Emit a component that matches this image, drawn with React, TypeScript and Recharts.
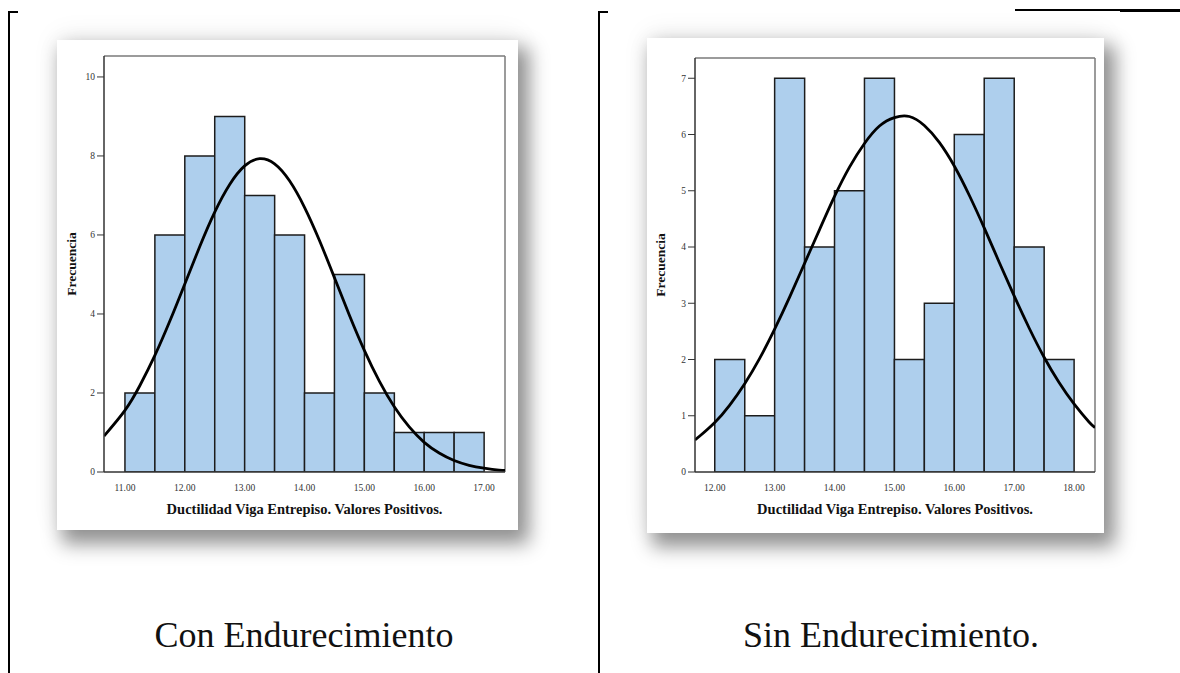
import React from 'react';
import { ComposedChart, Bar, Line, XAxis, YAxis, ReferenceLine } from 'recharts';

// ---- Con endurecimiento: frequency per 0.5-wide bin ----
const conBinCenters = [11.25, 11.75, 12.25, 12.75, 13.25, 13.75, 14.25, 14.75, 15.25, 15.75, 16.25, 16.75];
const conCounts = [2, 6, 8, 9, 7, 6, 2, 5, 2, 1, 1, 1];
// fitted normal curve (frequency scale)
const conCurveX = [10.65, 11.0, 11.25, 11.5, 11.75, 12.0, 12.25, 12.5, 12.75, 13.0, 13.25, 13.5, 13.75, 14.0,
  14.25, 14.5, 14.75, 15.0, 15.25, 15.5, 15.75, 16.0, 16.25, 16.5, 16.75, 17.0, 17.25, 17.35];
const conCurveY = [0.91, 1.56, 2.19, 2.95, 3.82, 4.76, 5.71, 6.58, 7.28, 7.75, 7.93, 7.8, 7.37, 6.7,
  5.86, 4.92, 3.97, 3.08, 2.3, 1.65, 1.14, 0.75, 0.48, 0.29, 0.17, 0.1, 0.05, 0.04];
const conXTicks = [11, 12, 13, 14, 15, 16, 17];
const conYTicks = [0, 2, 4, 6, 8, 10];

// ---- Sin endurecimiento ----
const sinBinCenters = [12.25, 12.75, 13.25, 13.75, 14.25, 14.75, 15.25, 15.75, 16.25, 16.75, 17.25, 17.75];
const sinCounts = [2, 1, 7, 4, 5, 7, 2, 3, 6, 7, 4, 2];
const sinCurveX = [11.67, 11.75, 12.0, 12.25, 12.5, 12.75, 13.0, 13.25, 13.5, 13.75, 14.0, 14.25, 14.5, 14.75,
  15.0, 15.25, 15.5, 15.75, 16.0, 16.25, 16.5, 16.75, 17.0, 17.25, 17.5, 17.75, 18.0, 18.25, 18.35];
const sinCurveY = [0.57, 0.64, 0.88, 1.19, 1.57, 2.02, 2.54, 3.11, 3.71, 4.31, 4.9, 5.42, 5.84, 6.15,
  6.3, 6.32, 6.16, 5.86, 5.44, 4.92, 4.34, 3.73, 3.13, 2.56, 2.04, 1.59, 1.21, 0.89, 0.79];
const sinXTicks = [12, 13, 14, 15, 16, 17, 18];
const sinYTicks = [0, 1, 2, 3, 4, 5, 6, 7];

const X_TITLE = 'Ductilidad Viga Entrepiso. Valores Positivos.';
const Y_TITLE = 'Frecuencia';
const CAPTIONS = ['Con Endurecimiento', 'Sin Endurecimiento.'];

const SERIF = '"Liberation Serif", "Times New Roman", serif';
const BAR_FILL = '#aecfed';
const BAR_STROKE = '#1c1c1c';
const FRAME = '#7a7a7a';

type Box = { left: number; top: number; width: number; height: number };

type PanelProps = {
  box: Box;
  margin: { top: number; right: number; bottom: number; left: number };
  yAxisWidth: number;
  xAxisHeight: number;
  xDomain: [number, number];
  yDomain: [number, number];
  xTicks: number[];
  yTicks: number[];
  centers: number[];
  counts: number[];
  curveX: number[];
  curveY: number[];
  titleBaseline: number;
  yTitleBaseline: number;
};

const tickStyle = { fontSize: 9.5, fill: '#333', fontFamily: SERIF };

function HistogramPanel(p: PanelProps) {
  const bins = p.centers.map((c, i) => ({ center: c, count: p.counts[i] }));
  const curve = p.curveX.map((x, i) => ({ x, y: p.curveY[i] }));

  const xTitle = (props: any) => {
    const vb = props.viewBox || {};
    return (
      <text
        x={vb.x + vb.width / 2}
        y={vb.y + p.titleBaseline}
        textAnchor="middle"
        fontFamily={SERIF}
        fontWeight="bold"
        fontSize={14.5}
        fill="#111"
      >
        {X_TITLE}
      </text>
    );
  };

  const yTitle = (props: any) => {
    const vb = props.viewBox || {};
    const cx = vb.x + p.yTitleBaseline;
    const cy = vb.y + vb.height / 2;
    return (
      <text
        x={cx}
        y={cy}
        transform={`rotate(-90 ${cx} ${cy})`}
        textAnchor="middle"
        fontFamily={SERIF}
        fontWeight="bold"
        fontSize={13.5}
        fill="#111"
      >
        {Y_TITLE}
      </text>
    );
  };

  return (
    <div
      style={{
        position: 'absolute',
        left: p.box.left,
        top: p.box.top,
        width: p.box.width,
        height: p.box.height,
        background: '#fff',
        boxShadow: '8px 11px 18px 3px rgba(0,0,0,0.42), 0 -4px 26px rgba(0,0,0,0.07)',
      }}
    >
      <ComposedChart
        width={p.box.width}
        height={p.box.height}
        data={bins}
        margin={p.margin}
        barCategoryGap={0}
        barGap={0}
      >
        {/* visible bottom axis, drives the fitted curve */}
        <XAxis
          xAxisId="curve"
          dataKey="x"
          type="number"
          domain={p.xDomain}
          ticks={p.xTicks}
          allowDataOverflow
          tickFormatter={(v: number) => v.toFixed(2)}
          tick={tickStyle}
          tickLine={false}
          tickSize={7}
          tickMargin={5}
          axisLine={{ stroke: '#333', strokeWidth: 1.5 }}
          height={p.xAxisHeight}
          label={xTitle}
        />
        {/* bin axis for the histogram bars */}
        <XAxis
          xAxisId="bins"
          dataKey="center"
          type="number"
          domain={p.xDomain}
          allowDataOverflow
          hide
          height={0}
        />
        <YAxis
          yAxisId="freq"
          type="number"
          domain={p.yDomain}
          ticks={p.yTicks}
          allowDataOverflow
          tick={tickStyle}
          tickSize={7}
          tickLine={{ stroke: '#333' }}
          axisLine={{ stroke: '#333', strokeWidth: 1.5 }}
          width={p.yAxisWidth}
          label={yTitle}
        />
        {/* plot frame: top and right edges */}
        <ReferenceLine xAxisId="curve" yAxisId="freq" y={p.yDomain[1]} stroke={FRAME} strokeWidth={1.5} />
        <ReferenceLine xAxisId="curve" yAxisId="freq" x={p.xDomain[1]} stroke={FRAME} strokeWidth={1.5} />
        <Bar
          xAxisId="bins"
          yAxisId="freq"
          dataKey="count"
          fill={BAR_FILL}
          stroke={BAR_STROKE}
          strokeWidth={1.5}
          isAnimationActive={false}
        />
        <Line
          xAxisId="curve"
          yAxisId="freq"
          data={curve}
          dataKey="y"
          type="natural"
          dot={false}
          activeDot={false}
          stroke="#000"
          strokeWidth={2.8}
          isAnimationActive={false}
        />
      </ComposedChart>
    </div>
  );
}

const lineStyle = (left: number, top: number, width: number, height: number): React.CSSProperties => ({
  position: 'absolute',
  left,
  top,
  width,
  height,
  background: '#000',
});

const captionStyle = (left: number): React.CSSProperties => ({
  position: 'absolute',
  left,
  top: 618,
  width: 400,
  textAlign: 'center',
  fontSize: 36,
  lineHeight: '35px',
  color: '#111',
  whiteSpace: 'nowrap',
});

export default function App() {
  return (
    <div
      style={{
        position: 'absolute',
        left: 0,
        top: 0,
        width: 1180,
        height: 673,
        background: '#fff',
        overflow: 'hidden',
        fontFamily: SERIF,
      }}
    >
      {/* table borders */}
      <div style={lineStyle(8, 11, 2, 662)} />
      <div style={lineStyle(8, 11, 10, 2)} />
      <div style={lineStyle(598, 11, 2, 662)} />
      <div style={lineStyle(598, 11, 10, 2)} />
      <div style={lineStyle(1015, 9, 165, 1.5)} />
      <div style={lineStyle(1120, 9, 60, 3)} />

      <HistogramPanel
        box={{ left: 57, top: 40, width: 461, height: 490 }}
        margin={{ top: 16, right: 13, bottom: 0, left: 0 }}
        yAxisWidth={47}
        xAxisHeight={58}
        xDomain={[10.65, 17.35]}
        yDomain={[0, 10.53]}
        xTicks={conXTicks}
        yTicks={conYTicks}
        centers={conBinCenters}
        counts={conCounts}
        curveX={conCurveX}
        curveY={conCurveY}
        titleBaseline={42}
        yTitleBaseline={19}
      />

      <HistogramPanel
        box={{ left: 647, top: 38, width: 457, height: 495 }}
        margin={{ top: 20, right: 9, bottom: 0, left: 0 }}
        yAxisWidth={48}
        xAxisHeight={61}
        xDomain={[11.67, 18.35]}
        yDomain={[0, 7.36]}
        xTicks={sinXTicks}
        yTicks={sinYTicks}
        centers={sinBinCenters}
        counts={sinCounts}
        curveX={sinCurveX}
        curveY={sinCurveY}
        titleBaseline={42}
        yTitleBaseline={18}
      />

      <div style={captionStyle(104)}>{CAPTIONS[0]}</div>
      <div style={captionStyle(691)}>{CAPTIONS[1]}</div>
    </div>
  );
}
